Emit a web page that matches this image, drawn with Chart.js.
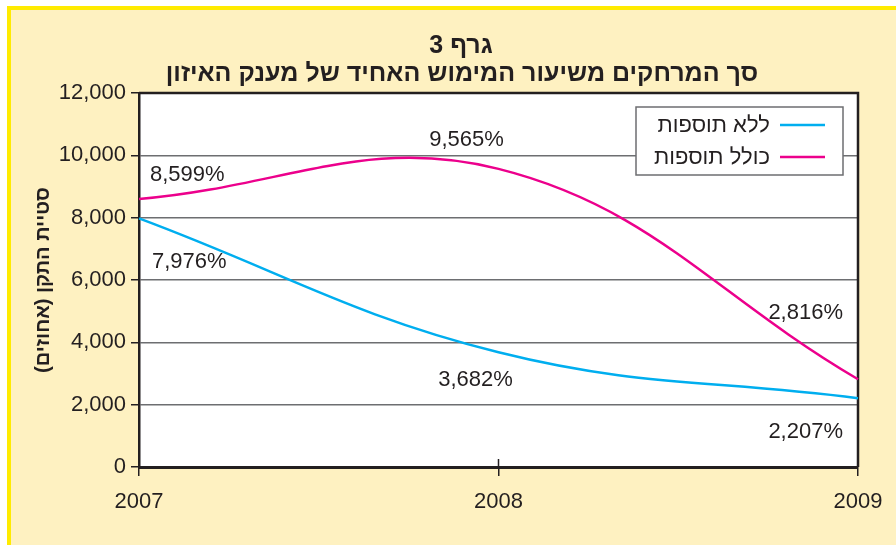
<!DOCTYPE html>
<html>
<head>
<meta charset="utf-8">
<script src="https://cdn.jsdelivr.net/npm/chart.js@4.4.1/dist/chart.umd.min.js"></script>
<style>
  html, body { margin: 0; padding: 0; background: #fff; }
  #wrap { width: 896px; height: 545px; }
</style>
</head>
<body>
<div id="wrap"><canvas id="chart" width="896" height="545"></canvas></div>
<script>
// data
const years = ['2007', '2008', '2009'];
const withoutExtras = [7976, 3682, 2207];
const withExtras = [8599, 9565, 2816];
const seriesNames = ['ללא תוספות', 'כולל תוספות'];
const titleLines = ['גרף 3', 'סך המרחקים משיעור המימוש האחיד של מענק האיזון'];
const yTitle = 'סטיית התקן (אחוזים)';
const yMin = 0, yMax = 12000, yStep = 2000;

const FONT = '"Liberation Sans", Arial, sans-serif';
const INK = '#231f20';

// label offsets per dataset / point: [dx, dy, align]
const labelPos = [
    [[13, 44, 'left'], [-23, 28, 'center'], [-15, 34, 'right']],
    [[11, -24, 'left'], [-32, -29, 'center'], [-15, -66, 'right']]
];

const backdrop = {
    id: 'backdrop',
    beforeDraw(chart) {
        const ctx = chart.ctx, a = chart.chartArea;
        ctx.save();
        ctx.fillStyle = '#fff';
        ctx.fillRect(0, 0, chart.width, chart.height);
        ctx.fillStyle = '#ffeb00';
        ctx.fillRect(7, 6, chart.width, chart.height);
        ctx.fillStyle = '#fef1c1';
        ctx.fillRect(11, 10, chart.width, chart.height);
        ctx.fillStyle = '#fff';
        ctx.fillRect(a.left, a.top, a.right - a.left, a.bottom - a.top);
        ctx.restore();
    }
};

const frame = {
    id: 'frame',
    beforeDatasetsDraw(chart) {
        const ctx = chart.ctx, a = chart.chartArea;
        const x = chart.scales.x;
        ctx.save();
        ctx.strokeStyle = INK;
        ctx.lineWidth = 2.5;
        ctx.beginPath();
        ctx.moveTo(a.left, a.top);
        ctx.lineTo(a.right, a.top);
        ctx.lineTo(a.right, a.bottom);
        ctx.stroke();
        // inner tick marks on middle categories
        ctx.lineWidth = 1.5;
        for (let i = 1; i < years.length - 1; i++) {
            const px = x.getPixelForValue(i);
            ctx.beginPath();
            ctx.moveTo(px, a.bottom - 8);
            ctx.lineTo(px, a.bottom);
            ctx.stroke();
        }
        ctx.restore();
    }
};

const heading = {
    id: 'heading',
    afterDraw(chart) {
        const ctx = chart.ctx;
        ctx.save();
        ctx.direction = 'rtl';
        ctx.fillStyle = INK;
        ctx.font = 'bold 25px ' + FONT;
        ctx.textAlign = 'center';
        ctx.textBaseline = 'middle';
        ctx.fillText(titleLines[0], 461, 46);
        ctx.fillText(titleLines[1], 462, 74);
        ctx.restore();
    }
};

const boxLegend = {
    id: 'boxLegend',
    afterDraw(chart) {
        const ctx = chart.ctx, a = chart.chartArea;
        const right = a.right - 15, top = a.top + 14, w = 207, h = 68;
        ctx.save();
        ctx.fillStyle = '#fff';
        ctx.fillRect(right - w, top, w, h);
        ctx.strokeStyle = '#6d6e71';
        ctx.lineWidth = 1.5;
        ctx.strokeRect(right - w, top, w, h);
        chart.data.datasets.forEach((ds, i) => {
            const y = top + 18 + i * 32;
            ctx.strokeStyle = ds.borderColor;
            ctx.lineWidth = 2.5;
            ctx.beginPath();
            ctx.moveTo(right - 63, y);
            ctx.lineTo(right - 18, y);
            ctx.stroke();
            ctx.direction = 'rtl';
            ctx.fillStyle = INK;
            ctx.font = '22px ' + FONT;
            ctx.textAlign = 'right';
            ctx.textBaseline = 'middle';
            ctx.fillText(ds.label, right - 73, y + 1);
        });
        ctx.restore();
    }
};

const valueLabels = {
    id: 'valueLabels',
    afterDatasetsDraw(chart) {
        const ctx = chart.ctx;
        ctx.save();
        ctx.fillStyle = INK;
        ctx.font = '22px ' + FONT;
        ctx.textBaseline = 'middle';
        chart.data.datasets.forEach((ds, i) => {
            chart.getDatasetMeta(i).data.forEach((pt, j) => {
                const p = labelPos[i][j];
                ctx.textAlign = p[2];
                ctx.fillText(ds.data[j].toLocaleString('en-US') + '%', pt.x + p[0], pt.y + p[1]);
            });
        });
        ctx.restore();
    }
};

new Chart(document.getElementById('chart'), {
    type: 'line',
    data: {
        labels: years,
        datasets: [
            { label: seriesNames[0], data: withoutExtras, borderColor: '#00aeef', borderWidth: 2.5, tension: 0.4, pointRadius: 0 },
            { label: seriesNames[1], data: withExtras, borderColor: '#ec008c', borderWidth: 2.5, tension: 0.4, pointRadius: 0 }
        ]
    },
    options: {
        responsive: false,
        animation: false,
        layout: { padding: { left: 0, right: 38, top: 93, bottom: 0 } },
        plugins: { legend: { display: false }, tooltip: { enabled: false }, title: { display: false } },
        scales: {
            x: {
                offset: false,
                grid: { drawOnChartArea: false, tickLength: 9, tickColor: INK, lineWidth: 1.5 },
                border: { color: INK, width: 3 },
                ticks: { color: INK, font: { family: FONT, size: 22 }, padding: 13, maxRotation: 0, autoSkip: false },
                afterFit(s) { s.height = 78; }
            },
            y: {
                min: yMin,
                max: yMax,
                grid: {
                    color: c => (c.tick && c.tick.value === yMax) ? INK : '#6d6e71',
                    lineWidth: 1.5,
                    tickColor: INK,
                    tickLength: 8
                },
                border: { color: INK, width: 2.5 },
                ticks: {
                    stepSize: yStep, color: INK, padding: 5,
                    font: { family: FONT, size: 22 },
                    callback: v => v.toLocaleString('en-US')
                },
                title: {
                    display: true, text: yTitle, color: INK,
                    font: { family: FONT, size: 20, weight: 'bold' },
                    padding: { top: 31, bottom: 0 }
                },
                afterFit(s) { s.width = 139; }
            }
        }
    },
    plugins: [backdrop, frame, valueLabels, boxLegend, heading]
});
</script>
</body>
</html>
